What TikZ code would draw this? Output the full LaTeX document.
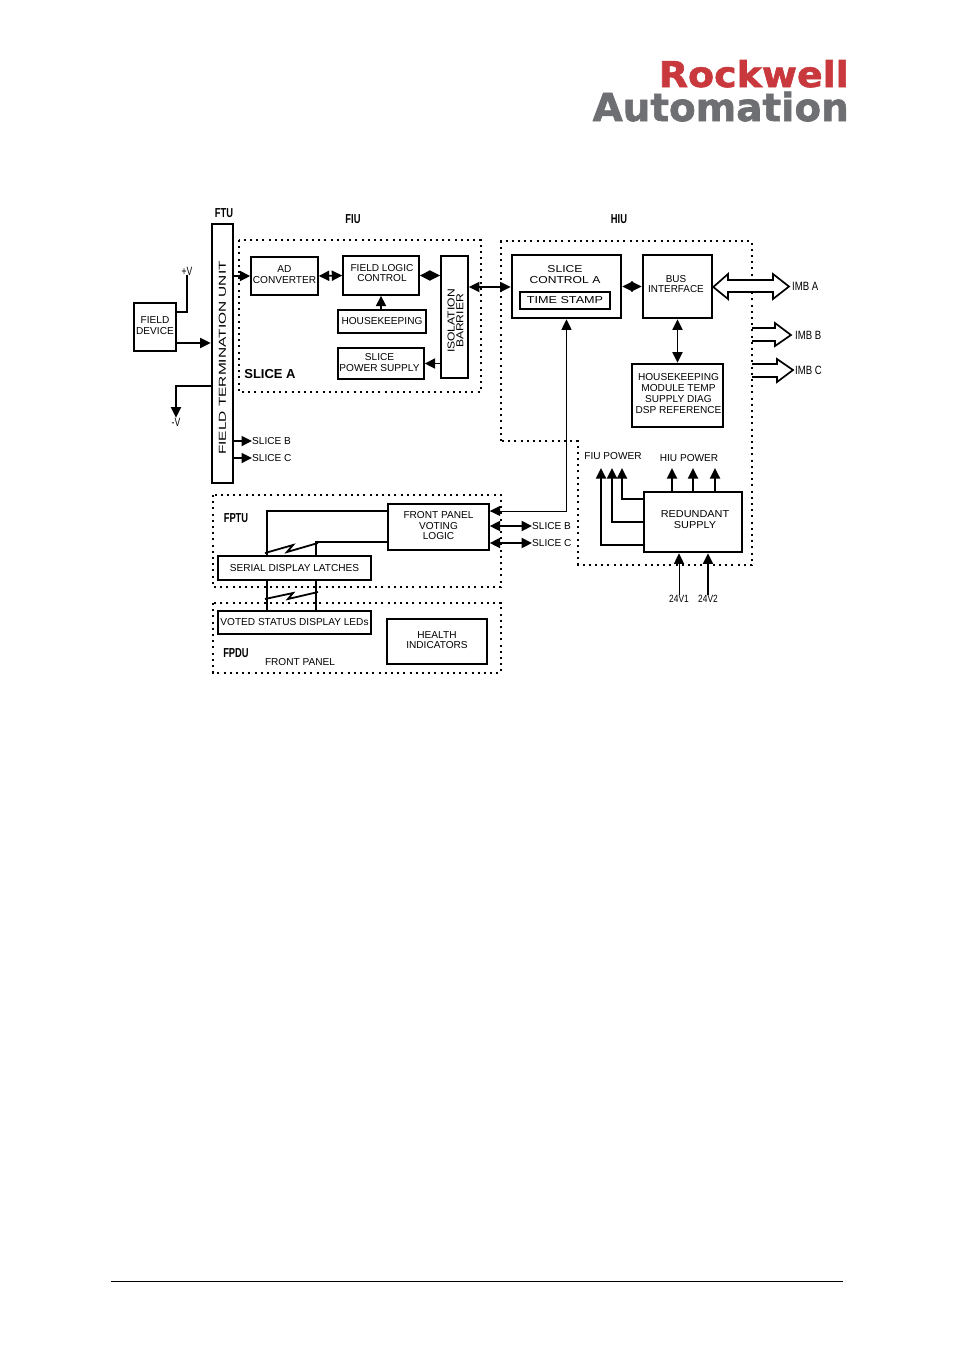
\documentclass[tikz,border=0pt]{standalone}
\usepackage{fontspec}
\setmainfont{Liberation Sans}
\newfontfamily\logofont{DejaVu Sans Bold}[FakeBold=1.6]
\usetikzlibrary{arrows.meta}
\definecolor{logored}{HTML}{C8383C}
\definecolor{logogray}{HTML}{6E6F72}
\tikzset{
    >={Triangle[length=10.5,width=10]},
    box/.style={draw, line width=1.4, inner sep=0, align=center, font=\fontsize{10.1}{10.9}\selectfont},
    hbox/.style={box, line width=2.6},
    lift/.style={text depth=3},
    tag/.style={inner sep=0, align=center, font=\fontsize{10.1}{10.9}\selectfont},
    unit/.style={inner sep=0, font=\fontsize{13}{13}\selectfont\bfseries},
    zone/.style={line width=2, dash pattern=on 2 off 4.2},
    link/.style={line width=1.8},
    hollow/.style={line width=1.7, fill=white, line join=miter},
}
\newcommand{\wide}[2]{\scalebox{#1}[1]{#2}}
\begin{document}
\begin{tikzpicture}[x=1pt,y=-1pt]
        \useasboundingbox (0,0) rectangle (954,1350);
        % Logo and page rule
        \node[anchor=base east, inner sep=0, text=logored, font=\fontsize{35.5}{36}\logofont] (rockwell) at (849,87) {\wide{1.07}{Rockwell}};
        \node[anchor=base east, inner sep=0, text=logogray, font=\fontsize{38.5}{39}\logofont] (automation) at (849,121) {\wide{1.01}{Automation}};
        \draw[line width=0.8] (111,1281) -- (843,1281);

        % Dotted unit borders
        \draw[zone] (239,240) rectangle (481,392);
        \draw[zone] (501,441) -- (501,241) -- (752,241) -- (752,565) -- (578,565) -- (578,441) -- cycle;
        \draw[zone] (213,495) rectangle (501,587);
        \draw[zone] (213,603) rectangle (501,673);

        % Unit titles
        \node[unit] (ftutitle) at (224,213.5) {\wide{0.72}{FTU}};
        \node[unit] (fiutitle) at (353,219.5) {\wide{0.72}{FIU}};
        \node[unit] (hiutitle) at (619,219.5) {\wide{0.72}{HIU}};
        \node[unit] (fptutitle) at (236,518.5) {\wide{0.72}{FPTU}};
        \node[unit] (fpdutitle) at (236,653.5) {\wide{0.72}{FPDU}};
        \node[unit] (slicetitle) at (270,374) {SLICE A};
        \node[tag] (paneltitle) at (300,662) {FRONT PANEL};

        % Field side
        \node[hbox, minimum width=21, minimum height=259] (ftu) at (222.5,353.5) {};
        \node[tag] (ftutxt) at (222.5,358) {\rotatebox{90}{\wide{1.53}{FIELD TERMINATION UNIT}}};
        \node[box, lift, minimum width=42, minimum height=48] (dev) at (155,327) {FIELD\\DEVICE};
        \node[tag] (pv) at (187,271) {\wide{0.72}{\fontsize{12}{12}\selectfont +V}};
        \node[tag] (mv) at (176,422) {\wide{0.72}{\fontsize{12}{12}\selectfont -V}};
        \node[tag, anchor=west] (ftub) at (252,441) {SLICE B};
        \node[tag, anchor=west] (ftuc) at (252,458) {SLICE C};

        % FIU blocks
        \node[box, lift, minimum width=67, minimum height=38] (ad) at (284.5,276) {AD\\CONVERTER};
        \node[box, minimum width=76, minimum height=39] (flc) at (381,275.5) {};
        \node[tag] (flctxt) at (382,273) {FIELD LOGIC\\CONTROL};
        \node[box, minimum width=88, minimum height=23] (hk) at (382,321.5) {HOUSEKEEPING};
        \node[box, minimum width=86, minimum height=31] (sps) at (381,363.5) {};
        \node[tag] (spstxt) at (379.5,362.5) {SLICE\\POWER SUPPLY};
        \node[box, line width=1.7, minimum width=27, minimum height=122] (iso) at (454.5,317) {};
        \node[tag] (isotxt) at (455,321) {\rotatebox{90}{\wide{1.2}{\shortstack{\rule{0pt}{8pt}ISOLATION\\[-1.5pt]BARRIER}}}};

        % HIU blocks
        \node[hbox, minimum width=109, minimum height=63] (ctl) at (566.5,286.5) {};
        \node[tag] (ctltxt) at (565,274.5) {\wide{1.2}{SLICE}\\\wide{1.2}{CONTROL A}};
        \node[box, minimum width=90, minimum height=17] (ts) at (565,300.5) {\wide{1.25}{TIME STAMP}};
        \node[hbox, minimum width=69, minimum height=63] (bus) at (677.5,286.5) {};
        \node[tag] (bustxt) at (676,284) {\wide{0.98}{BUS}\\\wide{0.98}{INTERFACE}};
        \node[hbox, minimum width=91, minimum height=63] (hkd) at (677.5,395.5) {};
        \node[tag] (hkdtxt) at (678.5,393.5) {HOUSEKEEPING\\MODULE TEMP\\SUPPLY DIAG\\DSP REFERENCE};
        \node[hbox, minimum width=98, minimum height=60] (red) at (693,522) {};
        \node[tag] (redtxt) at (695,520) {\wide{1.08}{REDUNDANT}\\\wide{1.08}{SUPPLY}};
        \node[tag] (fiup) at (613,456) {FIU POWER};
        \node[tag] (hiup) at (689,458) {HIU POWER};
        \node[tag] (v1) at (679,599) {\wide{0.8}{\fontsize{10.5}{11}\selectfont 24V1}};
        \node[tag] (v2) at (708,599) {\wide{0.8}{\fontsize{10.5}{11}\selectfont 24V2}};
        \node[tag, anchor=west] (imba) at (792,286) {\wide{0.8}{\fontsize{12}{12}\selectfont IMB A}};
        \node[tag, anchor=west] (imbb) at (795,335) {\wide{0.8}{\fontsize{12}{12}\selectfont IMB B}};
        \node[tag, anchor=west] (imbc) at (795,370) {\wide{0.8}{\fontsize{12}{12}\selectfont IMB C}};

        % Front panel blocks
        \node[box, lift, minimum width=101, minimum height=46] (vote) at (438.5,527) {FRONT PANEL\\VOTING\\LOGIC};
        \node[box, minimum width=153, minimum height=24] (latch) at (294.5,568) {SERIAL DISPLAY LATCHES};
        \node[box, minimum width=153, minimum height=23] (led) at (294.5,622.5) {VOTED STATUS DISPLAY LEDs};
        \node[box, lift, minimum width=100, minimum height=45] (hlth) at (437,641.5) {HEALTH\\INDICATORS};
        \node[tag, anchor=west] (voteb) at (532,526) {SLICE B};
        \node[tag, anchor=west] (votec) at (532,543) {SLICE C};

        % Field side connectors
        \draw[link, ->] (dev.east |- 0,343) -- (ftu.west |- 0,343);
        \draw[link] (dev.east |- 0,312) -| (pv.south);
        \draw[link, ->] (ftu.west |- 0,386) -| (mv.north);
        \draw[link, ->] (ftu.east |- ad.west) -- (ad.west);
        \draw[link, ->] (ftu.east |- ftub.west) -- (ftub.west);
        \draw[link, ->] (ftu.east |- ftuc.west) -- (ftuc.west);

        % FIU connectors
        \draw[link, <->] (ad.east) -- (flc.west);
        \draw[link, <->] (flc.east) -- (iso.west |- flc.east);
        \draw[link, ->] (hk.north -| flc.south) -- (flc.south);
        \draw[link, ->] (iso.west |- sps.east) -- (sps.east);
        \draw[link, <->] (iso.east |- 0,287) -- (ctl.west |- 0,287);

        % HIU connectors
        \draw[link, <->] (ctl.east) -- (bus.west);
        \draw[link, <->] (bus.south) -- (hkd.north);
        \draw[line width=1, <->] (ctl.south) |- (vote.east |- 0,511);
        \draw[line width=1, ->] (v1.north) -- (v1.north |- red.south);
        \draw[link, ->] (v2.north) -- (v2.north |- red.south);

        % Power outputs
        \foreach \x/\y in {601/545, 612/522, 622/499}
            \draw[link, ->] (red.west |- 0,\y) -| (\x,468);
        \foreach \x in {672, 693, 715}
            \draw[link, ->] (red.north -| \x,0) -- (\x,468);

        % Module bus arrows
        \draw[hollow] (bus.east |- 0,287) -- (728,274) -- (728,280) -- (773,280) -- (773,274) -- (789,286.5) -- (773,299) -- (773,292) -- (728,292) -- (728,299) -- cycle;
        \foreach \yt/\yb/\ymid/\xtip/\xh in {328/341/335/791/775, 364/377/370/793/777}
            \draw[hollow, fill=none] (752,\yt) -- (\xh,\yt) -- (\xh,\yt-5) -- (\xtip,\ymid) -- (\xh,\yb+5) -- (\xh,\yb) -- (752,\yb);

        % Front panel connectors
        \draw[link, <->, line width=2.2] (vote.east |- voteb.west) -- (voteb.west);
        \draw[link, <->, line width=2.2] (vote.east |- votec.west) -- (votec.west);
        \draw[link] (vote.west |- 0,511) -| (latch.north -| 267,0);
        \draw[link] (vote.west |- 0,542) -| (latch.north -| 316,0);
        \foreach \xp in {267, 316}
            \draw[link] (latch.south -| \xp,0) -- (led.north -| \xp,0);
        % Serial link break marks
        \draw[link] (265,553) -- (293,545) -- (287,552) -- (318,543);
        \draw[link] (265,599) -- (293,593) -- (288,599) -- (318,592);
    \end{tikzpicture}
\end{document}
